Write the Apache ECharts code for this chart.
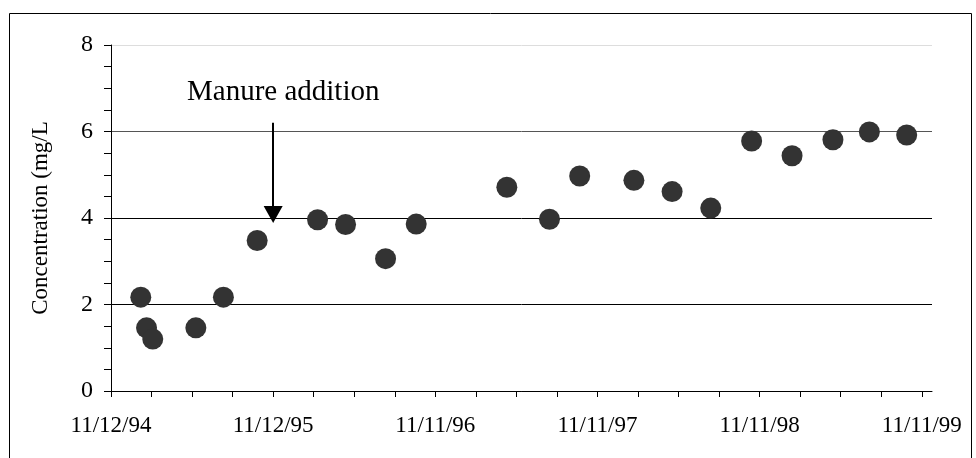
<!DOCTYPE html>
<html>
<head>
<meta charset="utf-8">
<script src="https://cdn.jsdelivr.net/npm/echarts@6/dist/echarts.min.js"></script>
<style>
html,body{margin:0;padding:0;background:#fff;}
#chart{width:976px;height:458px;}
</style>
</head>
<body>
<div id="chart"></div>
<script>
// Days after 11/12/94 for each sample
const sampleDays = [67, 80, 94, 191, 253, 329, 465, 528, 618, 687, 891, 987, 1055, 1177, 1263, 1350, 1442, 1533, 1625, 1707, 1791];
// Concentration (mg/L)
const concentration = [2.17, 1.46, 1.20, 1.46, 2.17, 3.48, 3.96, 3.85, 3.06, 3.86, 4.71, 3.97, 4.97, 4.87, 4.61, 4.23, 5.78, 5.44, 5.81, 5.99, 5.92];
// X tick labels (one per 365 days)
const xTickLabels = ['11/12/94', '11/12/95', '11/11/96', '11/11/97', '11/11/98', '11/11/99'];
const yTickLabels = ['0', '2', '4', '6', '8'];
// Annotation
const annotationText = 'Manure addition';
const arrowDay = 365;
const arrowTop = 6.2;
const arrowEnd = 4.08;

const daysPerLabel = 365;
const ticksPerLabel = 4;
const labelValues = xTickLabels.map((_, i) => i * daysPerLabel);
const tickValues = [];
for (let i = 0; i <= (xTickLabels.length - 1) * ticksPerLabel; i++) tickValues.push(i * daysPerLabel / ticksPerLabel);

const FONT = 'Liberation Serif';
const chart = echarts.init(document.getElementById('chart'));
chart.setOption({
  animation: false,
  backgroundColor: '#fff',
  grid: { left: 111, right: 44, top: 45, bottom: 67 },
  xAxis: {
    type: 'value', min: 0, max: 1848,
    splitLine: { show: false },
    axisLine: { show: true, onZero: false, lineStyle: { color: '#000', width: 1 } },
    axisTick: { show: true, inside: false, length: 6, lineStyle: { color: '#000' }, customValues: tickValues },
    axisLabel: {
      customValues: labelValues, margin: 23,
      fontFamily: FONT, fontSize: 23, color: '#000',
      formatter: v => xTickLabels[Math.round(v / daysPerLabel)] || ''
    }
  },
  yAxis: {
    type: 'value', min: 0, max: 8, interval: 2,
    name: 'Concentration (mg/L', nameLocation: 'middle', nameGap: 59,
    nameTextStyle: { fontFamily: FONT, fontSize: 23, color: '#000' },
    axisLine: { show: true, lineStyle: { color: '#000', width: 1 } },
    axisTick: { show: true, inside: false, length: 7, lineStyle: { color: '#000' } },
    minorTick: { show: true, splitNumber: 4, length: 7, lineStyle: { color: '#000' } },
    splitLine: { show: true, lineStyle: { color: ['#000', '#000', '#000', '#555', '#ddd'], width: 1 } },
    axisLabel: {
      margin: 18, fontFamily: FONT, fontSize: 24, color: '#000',
      formatter: v => yTickLabels[Math.round(v / 2)]
    }
  },
  graphic: [
    { type: 'rect', left: 7, top: 11, shape: { width: 962, height: 500 }, style: { fill: 'none', stroke: '#000', lineWidth: 1 }, silent: true },
    { type: 'text', left: 187, top: 78, style: { text: annotationText, fontFamily: FONT, fontSize: 29, fill: '#000' }, silent: true }
  ],
  series: [{
    type: 'scatter',
    data: sampleDays.map((d, i) => [d, concentration[i]]),
    symbol: 'circle', symbolSize: 21,
    itemStyle: { color: '#333', opacity: 1 },
    markLine: {
      silent: true, animation: false,
      symbol: ['none', 'triangle'], symbolSize: [19, 17],
      lineStyle: { color: '#000', width: 2, type: 'solid' },
      label: { show: false },
      data: [[{ coord: [arrowDay, arrowTop] }, { coord: [arrowDay, arrowEnd] }]]
    }
  }]
});
</script>
</body>
</html>
